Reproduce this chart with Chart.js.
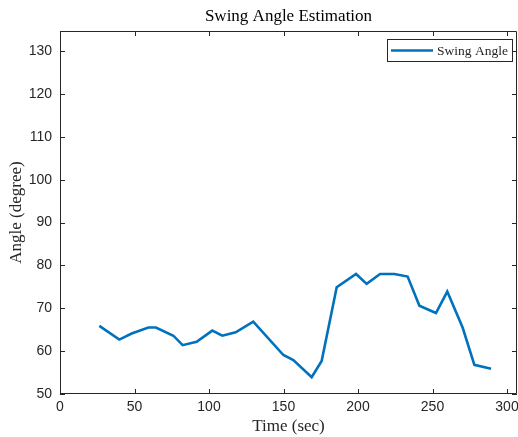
<!DOCTYPE html>
<html>
<head>
<meta charset="utf-8">
<script src="https://cdn.jsdelivr.net/npm/chart.js@4/dist/chart.umd.min.js"></script>
<style>
html,body{margin:0;padding:0;background:#fff;}
#wrap{width:518px;height:437px;position:relative;}
</style>
</head>
<body>
<div id="wrap"><canvas id="c" width="518" height="437"></canvas></div>
<script>
const timeSec = [26.4, 39.8, 48.1, 59.3, 64.4, 76.1, 82.3, 91.7, 102.2, 108.9, 117.9, 129.7, 149.9, 156.6, 168.9, 175.6, 185.7, 198.7, 205.8, 214.8, 224.4, 233.3, 241.2, 252.3, 259.9, 270.2, 278.1, 289.3];
const swingAngle = [65.9, 62.7, 64.1, 65.5, 65.5, 63.6, 61.4, 62.2, 64.8, 63.6, 64.4, 66.9, 59.1, 57.9, 53.9, 57.7, 74.9, 78.0, 75.7, 78.0, 78.0, 77.4, 70.6, 68.9, 73.9, 65.5, 56.8, 55.9];
const xTicks = [0, 50, 100, 150, 200, 250, 300];
const yTicks = [50, 60, 70, 80, 90, 100, 110, 120, 130];
const titleText = 'Swing Angle Estimation';
const xLabel = 'Time (sec)';
const yLabel = 'Angle (degree)';
const seriesName = 'Swing Angle';

const LINE = '#0072BD';
const AX = '#262626';
const SERIF = '"Liberation Serif", "DejaVu Serif", serif';
const SANS = '"Liberation Sans", Arial, sans-serif';

const boxPlugin = {
  id: 'boxPlugin',
  afterDatasetsDraw(chart) {
    const ctx = chart.ctx;
    const a = chart.chartArea;
    const xs = chart.scales.x, ys = chart.scales.y;
    ctx.save();
    ctx.strokeStyle = AX;
    ctx.lineWidth = 1;
    ctx.beginPath();
    ctx.rect(a.left + 0.5, a.top + 0.5, a.right - a.left - 1, a.bottom - a.top - 1);
    const tl = 5;
    xTicks.forEach(v => {
      const px = Math.round(xs.getPixelForValue(v)) + 0.5;
      ctx.moveTo(px, a.bottom); ctx.lineTo(px, a.bottom - tl);
      ctx.moveTo(px, a.top); ctx.lineTo(px, a.top + tl);
    });
    yTicks.forEach(v => {
      const py = Math.round(ys.getPixelForValue(v)) + 0.5;
      ctx.moveTo(a.left, py); ctx.lineTo(a.left + tl, py);
      ctx.moveTo(a.right, py); ctx.lineTo(a.right - tl, py);
    });
    ctx.stroke();

    // legend
    const lx = 387, ly = 39, lw = 125, lh = 22;
    ctx.fillStyle = '#fff';
    ctx.fillRect(lx, ly, lw, lh);
    ctx.strokeStyle = AX;
    ctx.strokeRect(lx + 0.5, ly + 0.5, lw, lh);
    ctx.strokeStyle = LINE;
    ctx.lineWidth = 2.5;
    ctx.beginPath();
    ctx.moveTo(391, ly + lh / 2 + 0.5);
    ctx.lineTo(433, ly + lh / 2 + 0.5);
    ctx.stroke();
    ctx.fillStyle = AX;
    ctx.font = '13.5px ' + SERIF;
    ctx.textBaseline = 'middle';
    ctx.textAlign = 'left';
    ctx.fillText(seriesName, 437, ly + lh / 2 + 1);

    // title
    ctx.font = '17px ' + SERIF;
    ctx.textAlign = 'center';
    ctx.fillStyle = '#000';
    ctx.fillText(titleText, (a.left + a.right) / 2, 17);
    ctx.restore();
  }
};

new Chart(document.getElementById('c'), {
  type: 'line',
  data: {
    datasets: [{
      label: seriesName,
      data: timeSec.map((t, i) => ({ x: t, y: swingAngle[i] })),
      borderColor: LINE,
      backgroundColor: LINE,
      borderWidth: 2.6,
      pointRadius: 0,
      tension: 0,
      fill: false
    }]
  },
  options: {
    responsive: false,
    animation: false,
    layout: { padding: { left: 0, right: 1, top: 31, bottom: 0 } },
    plugins: { legend: { display: false }, tooltip: { enabled: false }, title: { display: false } },
    scales: {
      x: {
        type: 'linear',
        min: 0, max: 306.7,
        afterBuildTicks(s) { s.ticks = xTicks.map(v => ({ value: v })); },
        afterFit(s) { s.height = 43; s.paddingLeft = 0; s.paddingRight = 0; },
        grid: { display: false, drawTicks: false },
        border: { display: false },
        ticks: { color: AX, font: { family: SANS, size: 14 }, padding: 5, maxRotation: 0, autoSkip: false },
        title: { display: true, text: xLabel, color: AX, font: { family: SERIF, size: 17 }, padding: { top: 0, bottom: 0 } }
      },
      y: {
        type: 'linear',
        min: 50, max: 134.7,
        afterBuildTicks(s) { s.ticks = yTicks.map(v => ({ value: v })); },
        afterFit(s) { s.width = 60; s.paddingTop = 0; s.paddingBottom = 0; },
        grid: { display: false, drawTicks: false },
        border: { display: false },
        ticks: { color: AX, font: { family: SANS, size: 14 }, padding: 8, autoSkip: false },
        title: { display: true, text: yLabel, color: AX, font: { family: SERIF, size: 17 }, padding: { top: 6, bottom: 0 } }
      }
    }
  },
  plugins: [boxPlugin]
});
</script>
</body>
</html>
